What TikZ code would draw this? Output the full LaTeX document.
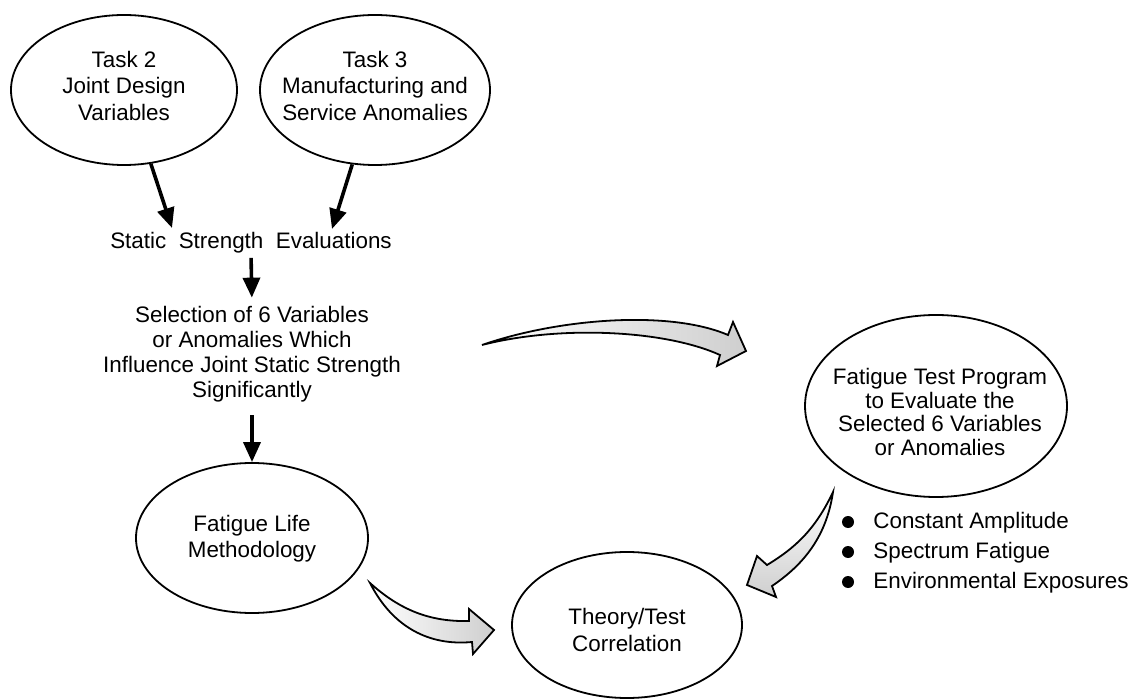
\documentclass[tikz,border=0pt]{standalone}
\usepackage{fontspec}
\setmainfont{Liberation Sans}
\usetikzlibrary{arrows.meta,shapes.geometric}
\begin{document}
\begin{tikzpicture}[x=0.5pt,y=-0.5pt,
  oval/.style={draw, ellipse, line width=0.9pt, inner sep=0pt},
  txt/.style={align=center, inner sep=0pt, font=\fontsize{11.2}{12.5}\selectfont},
  txtw/.style={align=center, inner sep=0pt, font=\fontsize{11.2}{13.2}\selectfont},
  txtb/.style={align=center, inner sep=0pt, font=\fontsize{11.2}{11.9}\selectfont},
  lst/.style={anchor=west, inner sep=0pt, text height=8pt, text depth=2pt, font=\fontsize{11.2}{12.5}\selectfont},
  arr/.style={line width=1.8pt, -{Triangle[length=10pt,width=8.5pt]}},
  big/.style={draw, line width=0.9pt, line join=miter},
  bul/.style={circle, fill, inner sep=0pt, minimum size=6pt}]
\useasboundingbox (0,0) rectangle (1134,699);

% ellipses
\node[oval, minimum width=113pt, minimum height=75pt] (t2) at (124,90) {};
\node[txtw] (t2t) at (124,86) {Task 2\\Joint Design\\Variables};
\node[oval, minimum width=115pt, minimum height=75pt] (t3) at (375,90) {};
\node[txtw] (t3t) at (375,86) {Task 3\\Manufacturing and\\Service Anomalies};

\node[txt] (sse) at (251,243) {Static\ \ Strength\ \ Evaluations};
\node[txt] (sel) at (252,354) {Selection of 6 Variables\\or Anomalies Which\\Influence Joint Static Strength\\Significantly};

\node[oval, minimum width=116pt, minimum height=75pt] (ful) at (252,538) {};
\node[txtw] (fult) at (252,539) {Fatigue Life\\Methodology};

\node[oval, minimum width=115pt, minimum height=73pt] (ttc) at (627,625) {};
\node[txtw] (ttct) at (627,630) {Theory/Test\\Correlation};

\node[oval, minimum width=131pt, minimum height=91pt] (ftp) at (936,406) {};
\node[txtb] (ftpt) at (940,412) {Fatigue Test Program\\to Evaluate the\\Selected 6 Variables\\or Anomalies};

% bullet list
\node[bul] (b1) at (848,522) {};
\node[bul] (b2) at (848,552) {};
\node[bul] (b3) at (848,582) {};
\node[lst] (l1) at (873,522) {Constant Amplitude};
\node[lst] (l2) at (873,552) {Spectrum Fatigue};
\node[lst] (l3) at (873,582) {Environmental Exposures};

% solid arrows
\coordinate (a1e) at (172,228);
\coordinate (a2e) at (332,229);
\draw[arr] (t2.-70) -- (a1e);
\draw[arr] (t3.-107) -- (a2e);
\draw[arr, shorten <=2pt, shorten >=4pt] (sse.south) -- (sel.north);
\draw[arr, shorten <=6.5pt] (sel.south) -- (ful.north);

% hollow shaded arrows
\path[big, left color=white, right color=gray!38]
  (482,345) .. controls (560,318) and (670,310) .. (728,335)
  -- (733,322) -- (746,351) -- (717,366) -- (720,355)
  .. controls (665,330) and (560,325) .. cycle;
\path[big, top color=white, bottom color=gray!38]
  (833,492) .. controls (815,530) and (795,548) .. (767,565)
  -- (757,556) -- (747,585) -- (776,597) -- (772,586)
  .. controls (800,567) and (826,540) .. cycle;
\path[big, left color=white, right color=gray!38]
  (370,583) .. controls (400,610) and (430,622) .. (469,621)
  -- (469,609) -- (494,630) -- (473,654) -- (472,642)
  .. controls (430,646) and (393,628) .. cycle;
\end{tikzpicture}
\end{document}
